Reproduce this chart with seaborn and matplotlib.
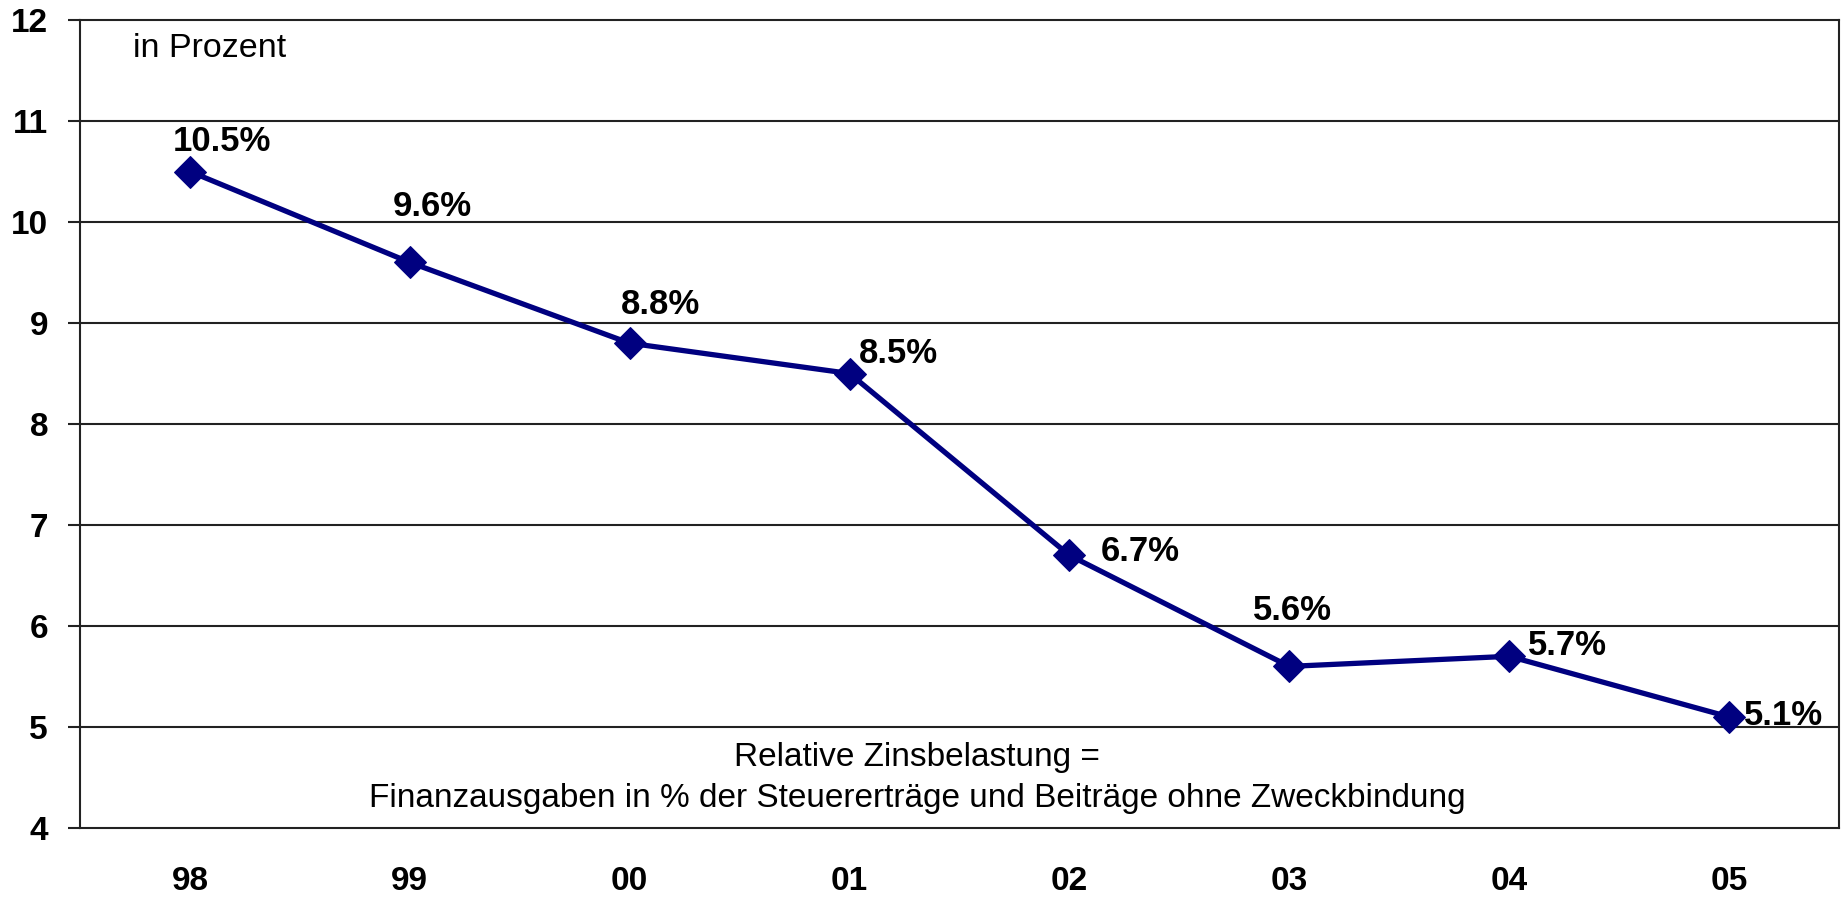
import matplotlib
matplotlib.use("Agg")
import matplotlib.pyplot as plt
import seaborn as sns
import pandas as pd

years = ["98", "99", "00", "01", "02", "03", "04", "05"]
values = [10.5, 9.6, 8.8, 8.5, 6.7, 5.6, 5.7, 5.1]
labels = ["10.5%", "9.6%", "8.8%", "8.5%", "6.7%", "5.6%", "5.7%", "5.1%"]
yticks = [4, 5, 6, 7, 8, 9, 10, 11, 12]

# label offsets in pixels (style/position, not data)
label_offsets = [(32, 30), (22, 56), (31, 39), (49, 20), (71, 4), (3, 56), (58, 11), (54, 1)]

sns.set_theme(style="white")
plt.rcParams['font.family'] = ['Liberation Sans', 'DejaVu Sans']

df = pd.DataFrame({"Jahr": years, "Wert": values})

fig = plt.figure(figsize=(18.46, 8.98), dpi=100)
ax = fig.add_axes([80/1846, 1-828/898, (1839-80)/1846, (828-20)/898])

sns.lineplot(data=df, x="Jahr", y="Wert", ax=ax, color="#000080", linewidth=3.8,
             marker="D", markersize=16, markeredgecolor="#000080", markerfacecolor="#000080",
             sort=False)

ax.set_xlim(-0.5, len(years) - 0.5)
ax.set_ylim(4, 12)
ax.set_yticks(yticks)
ax.set_yticklabels([str(t) for t in yticks], fontsize=24, fontweight="bold", color="black")
ax.set_xticks(range(len(years)))
ax.set_xticklabels(years, fontsize=24, fontweight="bold", color="black")
ax.set_xlabel("")
ax.set_ylabel("")

for y in yticks[1:-1]:
    ax.axhline(y, color="#222222", linewidth=1.5, zorder=0)

for s in ax.spines.values():
    s.set_color("#222222")
    s.set_linewidth(1.5)
    s.set_visible(True)

ax.tick_params(axis="y", which="major", length=9, width=1.5, color="#222222", pad=14, left=True, direction="out")
ax.tick_params(axis="x", which="major", length=0, pad=27, bottom=False)

for i, (v, lab) in enumerate(zip(values, labels)):
    dx, dy = label_offsets[i]
    ax.annotate(lab, xy=(i, v), xytext=(dx, dy), textcoords="offset pixels",
                ha="center", va="center", fontsize=25, fontweight="bold", color="black")

ax.text(0.030, 0.965, "in Prozent", transform=ax.transAxes, ha="left", va="center",
        fontsize=24.5, color="black")
ax.text(0.476, 0.062, "Relative Zinsbelastung =\nFinanzausgaben in % der Steuererträge und Beiträge ohne Zweckbindung",
        transform=ax.transAxes, ha="center", va="center", fontsize=24, color="black",
        linespacing=1.45)

fig.savefig("out.png", dpi=100, facecolor="white")
